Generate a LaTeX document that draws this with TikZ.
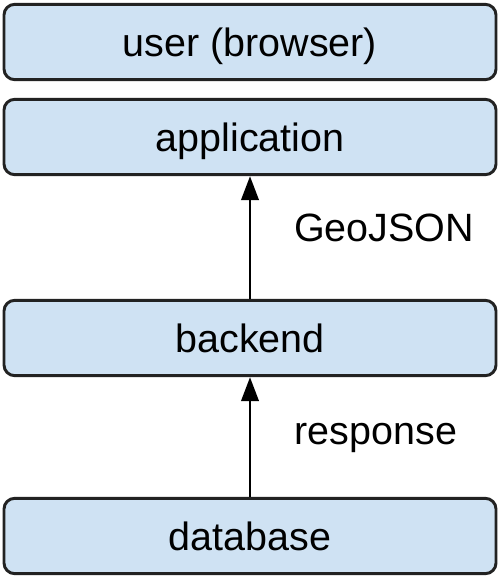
\documentclass[tikz,border=0pt]{standalone}
\usepackage{fontspec}
\setmainfont{Liberation Sans}
\usetikzlibrary{arrows.meta}
\definecolor{boxfill}{HTML}{CFE2F3}
\definecolor{boxline}{HTML}{222222}
\begin{document}
\begin{tikzpicture}[x=0.75pt,y=-0.75pt,
  layerbox/.style={draw=boxline, fill=boxfill, line width=2.2pt, rounded corners=8pt,
    minimum width=369pt, minimum height=56.5pt, inner sep=0pt,
    text height=21pt, text depth=0pt, font=\fontsize{29.6}{34}\selectfont},
  flowlabel/.style={inner sep=0pt, text height=21pt, text depth=0pt, font=\fontsize{29.6}{34}\selectfont},
  flow/.style={line width=2.2pt, -{Triangle[width=13pt,length=18pt]}}]
\useasboundingbox (0,0) rectangle (500,578);
\node[layerbox] (user) at (250,42) {user (browser)};
\node[layerbox] (app) at (250,137) {application};
\node[layerbox] (backend) at (250,338) {backend};
\node[layerbox] (db) at (250,536) {database};
\draw[flow] (backend.north) -- (app.south);
\draw[flow] (db.north) -- (backend.south);
\node[flowlabel] (geo) at (384,227) {GeoJSON};
\node[flowlabel] (resp) at (376,430) {response};
\end{tikzpicture}
\end{document}
